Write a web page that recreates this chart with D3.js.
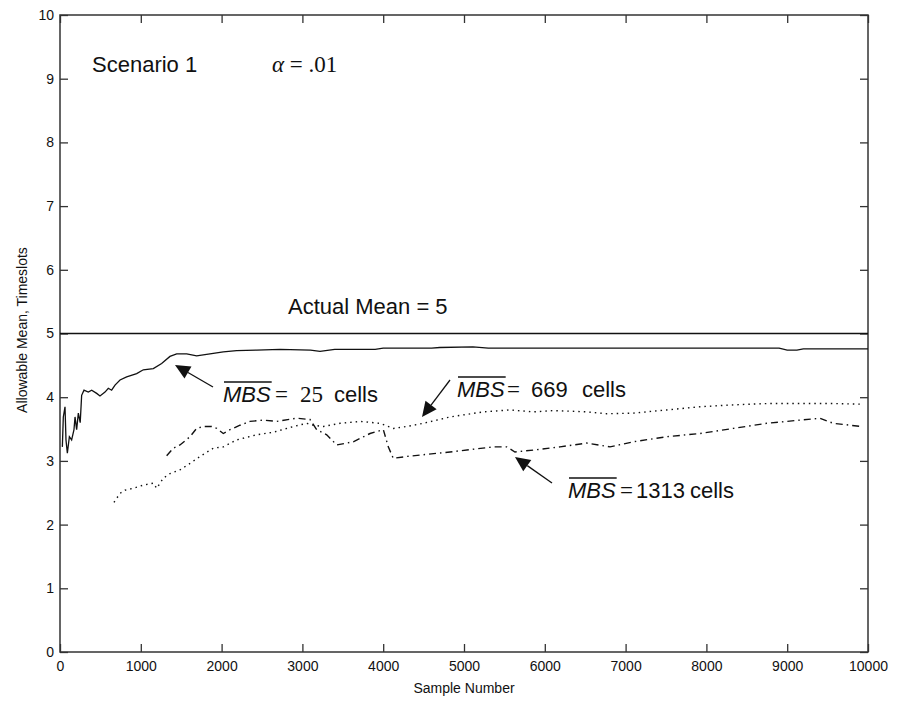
<!DOCTYPE html>
<html>
<head>
<meta charset="utf-8">
<script src="https://cdn.jsdelivr.net/npm/d3@7"></script>
<style>
  body { margin: 0; background: #fff; }
  svg { display: block; }
  text { font-family: "Liberation Sans", Arial, sans-serif; fill: #111; }
</style>
</head>
<body>
<svg id="chart" width="898" height="702"></svg>
<script>
// series: [sample number, allowable mean]
const mbs25 = [
  [29, 3.22], [41, 3.69], [62, 3.85], [74, 3.33], [91, 3.12], [116, 3.38], [144, 3.33],
  [173, 3.49], [186, 3.69], [206, 3.49], [227, 3.75], [250, 3.6], [268, 4.03], [297, 4.11],
  [350, 4.08], [392, 4.11], [454, 4.06], [495, 4.02], [557, 4.08], [598, 4.14], [639, 4.11],
  [681, 4.19], [743, 4.27], [825, 4.32], [949, 4.37], [1031, 4.43], [1155, 4.45], [1258, 4.53],
  [1361, 4.64], [1444, 4.68], [1568, 4.68], [1691, 4.65], [1856, 4.68], [2021, 4.71],
  [2186, 4.73], [2434, 4.74], [2723, 4.75], [3100, 4.74], [3218, 4.72], [3400, 4.75],
  [3900, 4.75], [4000, 4.77], [4600, 4.77], [4700, 4.78], [5111, 4.79], [5300, 4.77],
  [5600, 4.77], [6200, 4.77], [7000, 4.77], [8000, 4.77], [8900, 4.77], [9000, 4.74],
  [9120, 4.74], [9200, 4.76], [10000, 4.76]
];
const mbs669 = [
  [668, 2.35], [743, 2.49], [804, 2.54], [907, 2.57], [1031, 2.62], [1155, 2.65], [1196, 2.57],
  [1279, 2.73], [1361, 2.80], [1485, 2.86], [1609, 2.96], [1733, 3.07], [1898, 3.20],
  [2021, 3.22], [2186, 3.33], [2434, 3.41], [2640, 3.45], [2888, 3.54], [3053, 3.59],
  [3135, 3.56], [3259, 3.54], [3465, 3.59], [3713, 3.62], [3960, 3.59], [4125, 3.51],
  [4290, 3.54], [4496, 3.59], [4827, 3.69], [5240, 3.77], [5569, 3.80], [5858, 3.77],
  [6105, 3.79], [6518, 3.77], [6766, 3.74], [7095, 3.75], [7508, 3.80], [7921, 3.85],
  [8333, 3.88], [8746, 3.90], [9158, 3.90], [9571, 3.90], [9922, 3.89]
];
const mbs1313 = [
  [1320, 3.08], [1403, 3.20], [1485, 3.25], [1609, 3.38], [1691, 3.51], [1774, 3.54],
  [1877, 3.54], [1939, 3.51], [2021, 3.43], [2104, 3.49], [2228, 3.56], [2351, 3.62],
  [2516, 3.64], [2681, 3.62], [2929, 3.67], [3094, 3.65], [3177, 3.49], [3301, 3.41],
  [3424, 3.25], [3630, 3.30], [3837, 3.43], [4002, 3.49], [4063, 3.22], [4125, 3.04],
  [4290, 3.07], [4827, 3.14], [5363, 3.22], [5528, 3.22], [5631, 3.14], [5858, 3.17],
  [6188, 3.22], [6518, 3.28], [6807, 3.22], [7095, 3.30], [7508, 3.38], [7921, 3.43],
  [8333, 3.51], [8746, 3.59], [9158, 3.64], [9406, 3.67], [9571, 3.59], [9922, 3.54]
];
const actualMean = 5;
const xTicks = d3.range(0, 10001, 1000);
const yTicks = d3.range(0, 11, 1);

const svg = d3.select("#chart");
const plotL = 60, plotR = 868, plotT = 15, plotB = 652;

const x = d3.scaleLinear().domain([0, 10000]).range([plotL, plotR]);
const y = d3.scaleLinear().domain([0, 10]).range([plotB, plotT]);

// axes, ticks pointing inward on all four sides
const axisStyle = g => {
  g.select(".domain").remove();
  g.selectAll(".tick line").attr("stroke", "#333").attr("stroke-width", 1.3);
  g.selectAll("text").style("font-size", "14px").attr("fill", "#111");
};
svg.append("g").attr("transform", `translate(0,${plotB})`)
  .call(d3.axisBottom(x).tickValues(xTicks).tickSize(-8).tickPadding(9).tickFormat(d3.format("d")))
  .call(axisStyle);
svg.append("g").attr("transform", `translate(0,${plotT})`)
  .call(d3.axisTop(x).tickValues(xTicks).tickSize(-8).tickFormat(""))
  .call(axisStyle);
svg.append("g").attr("transform", `translate(${plotL},0)`)
  .call(d3.axisLeft(y).tickValues(yTicks).tickSize(-8).tickPadding(6).tickFormat(d3.format("d")))
  .call(axisStyle);
svg.append("g").attr("transform", `translate(${plotR},0)`)
  .call(d3.axisRight(y).tickValues(yTicks).tickSize(-8).tickFormat(""))
  .call(axisStyle);

svg.append("rect")
  .attr("x", plotL).attr("y", plotT).attr("width", plotR - plotL).attr("height", plotB - plotT)
  .attr("fill", "none").attr("stroke", "#333").attr("stroke-width", 1.5);

// axis titles
svg.append("text").attr("x", (plotL + plotR) / 2).attr("y", 693)
  .attr("text-anchor", "middle").style("font-size", "14px").text("Sample Number");
svg.append("text").attr("transform", "translate(27,330) rotate(-90)")
  .attr("text-anchor", "middle").style("font-size", "14px").text("Allowable Mean, Timeslots");

// actual mean line
svg.append("line")
  .attr("x1", x(0)).attr("x2", x(10000)).attr("y1", y(actualMean)).attr("y2", y(actualMean))
  .attr("stroke", "#111").attr("stroke-width", 1.5);

const line = d3.line().x(d => x(d[0])).y(d => y(d[1]));
svg.append("path").datum(mbs25).attr("d", line.curve(d3.curveLinear))
  .attr("fill", "none").attr("stroke", "#111").attr("stroke-width", 1.3);
svg.append("path").datum(mbs669).attr("d", line)
  .attr("fill", "none").attr("stroke", "#111").attr("stroke-width", 1.4)
  .attr("stroke-dasharray", "1.5,4");
svg.append("path").datum(mbs1313).attr("d", line)
  .attr("fill", "none").attr("stroke", "#111").attr("stroke-width", 1.4)
  .attr("stroke-dasharray", "7,4,1.5,4");

// text labels
svg.append("text").attr("x", 92).attr("y", 72).style("font-size", "22px").text("Scenario 1");
svg.append("text").attr("x", 272).attr("y", 72)
  .style("font-family", "'Liberation Serif', 'Times New Roman', serif").style("font-size", "23px")
  .html('<tspan font-style="italic">α</tspan> = .01');
svg.append("text").attr("x", 288).attr("y", 314).style("font-size", "22px").text("Actual Mean = 5");

// annotation: overlined italic MBS followed by pieces at fixed x
function mbsLabel(x0, yBase, rest) {
  const g = svg.append("g");
  const t = g.append("text").attr("x", x0).attr("y", yBase).style("font-size", "22px");
  const m = t.append("tspan").style("font-style", "italic").text("MBS");
  rest.forEach(r => t.append("tspan").attr("x", r.x)
    .style("font-family", r.serif ? "'Liberation Serif', serif" : null)
    .style("font-size", r.serif ? "23px" : null).text(r.s));
  const w = m.node().getComputedTextLength();
  g.append("line").attr("x1", x0 + 1).attr("x2", x0 + w + 1)
    .attr("y1", yBase - 20).attr("y2", yBase - 20).attr("stroke", "#111").attr("stroke-width", 1.3);
}
mbsLabel(223, 402, [{ s: "=", x: 275, serif: true }, { s: "25", x: 300, serif: true }, { s: "cells", x: 334 }]);
mbsLabel(457, 397, [{ s: "=", x: 507, serif: true }, { s: "669", x: 531 }, { s: "cells", x: 582 }]);
mbsLabel(568, 498, [{ s: "=", x: 620, serif: true }, { s: "1313", x: 636 }, { s: "cells", x: 690 }]);

// arrows
const arrows = [
  { from: [213, 387], to: [175, 365] },
  { from: [450, 380], to: [422, 417] },
  { from: [552, 483], to: [515, 457] }
];
arrows.forEach(a => {
  const dx = a.to[0] - a.from[0], dy = a.to[1] - a.from[1];
  const len = Math.hypot(dx, dy), ux = dx / len, uy = dy / len;
  const hl = 15, hw = 7;
  const bx = a.to[0] - ux * hl, by = a.to[1] - uy * hl;
  svg.append("line").attr("x1", a.from[0]).attr("y1", a.from[1]).attr("x2", bx).attr("y2", by)
    .attr("stroke", "#111").attr("stroke-width", 1.3);
  svg.append("path")
    .attr("d", `M${a.to[0]},${a.to[1]}L${bx - uy * hw},${by + ux * hw}L${bx + uy * hw},${by - ux * hw}Z`)
    .attr("fill", "#111");
});
</script>
</body>
</html>
